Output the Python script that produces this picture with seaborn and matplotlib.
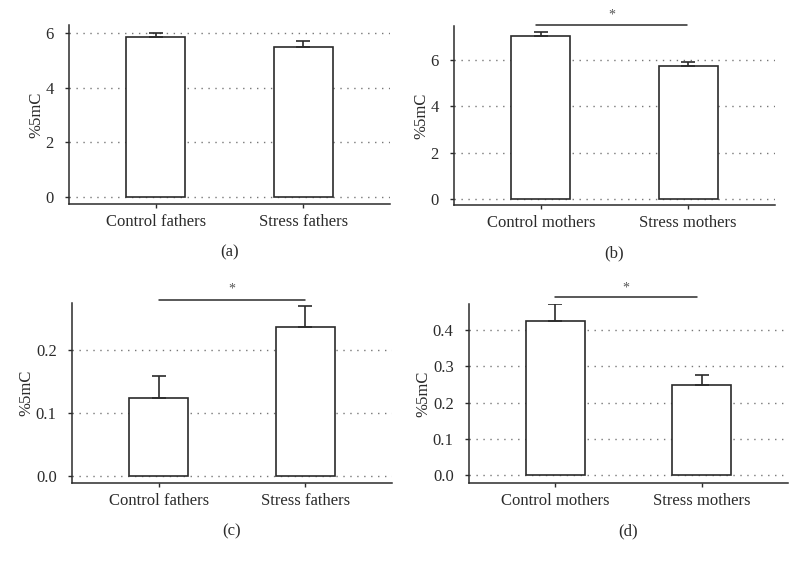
import matplotlib
matplotlib.use('Agg')
import matplotlib.pyplot as plt
import seaborn as sns
import pandas as pd

fathers = ["Control fathers", "Stress fathers"]
mothers = ["Control mothers", "Stress mothers"]

a_mean = [5.85, 5.51]
a_err = [0.15, 0.19]
b_mean = [7.05, 5.73]
b_err = [0.16, 0.20]
c_mean = [0.124, 0.237]
c_err = [0.035, 0.033]
d_mean = [0.424, 0.250]
d_err = [0.048, 0.027]

a_ticks = [0, 2, 4, 6]
b_ticks = [0, 2, 4, 6]
c_ticks = [0.0, 0.1, 0.2]
d_ticks = [0.0, 0.1, 0.2, 0.3, 0.4]

sns.set_style('ticks')
plt.rcParams['font.family'] = ['Liberation Serif', 'DejaVu Serif']

INK = '#2b2b2b'


def panel(fig, rect, cats, means, errs, ticks, ylim, fmt, letter, sig=None):
    ax = fig.add_axes(rect)
    df = pd.DataFrame({'group': cats, 'value': means})
    sns.barplot(data=df, x='group', y='value', ax=ax, color='white',
                edgecolor=INK, linewidth=1.2, width=0.4, errorbar=None)
    ax.errorbar(range(len(cats)), means, yerr=[[0] * len(errs), errs],
                fmt='none', ecolor=INK, elinewidth=1.2, capsize=5, capthick=1.2)
    ax.set_xlim(-0.59, 1.59)
    ax.set_ylim(*ylim)
    ax.set_yticks(ticks)
    ax.set_yticklabels([fmt.format(t) for t in ticks])
    for t in ticks:
        ax.axhline(t, color='#777777', lw=1.0, ls=(0, (1, 4)), zorder=0)
    ax.set_xlabel('')
    ax.set_ylabel('%5mC', fontsize=12, color=INK, labelpad=1)
    ax.tick_params(labelsize=12, colors=INK, length=3, width=1)
    ax.tick_params(axis='y', pad=8)
    ax.tick_params(axis='x', pad=4)
    for s in ['top', 'right']:
        ax.spines[s].set_visible(False)
    for s in ['left', 'bottom']:
        ax.spines[s].set_color(INK)
        ax.spines[s].set_linewidth(1.1)
    if sig is not None:
        x0, x1, y, ys = sig
        ax.plot([x0, x1], [y, y], color=INK, lw=1.1, clip_on=False)
        ax.text((x0 + x1) / 2, ys, '*', ha='center', va='center',
                fontsize=10, color='#555555', clip_on=False)
    ax.text(0.5, -0.27, letter, transform=ax.transAxes, ha='center',
            va='center', fontsize=12, color=INK)
    return ax


fig = plt.figure(figsize=(7.99, 5.67), dpi=100)

panel(fig, [0.0864, 0.6402, 0.4018, 0.3157], fathers, a_mean, a_err,
      a_ticks, (-0.26, 6.3), '{:.0f}', '(a)')
panel(fig, [0.5682, 0.6384, 0.4018, 0.3157], mothers, b_mean, b_err,
      b_ticks, (-0.26, 7.47), '{:.0f}', '(b)', sig=(-0.03, 0.99, 7.52, 7.95))
panel(fig, [0.0901, 0.1481, 0.4005, 0.3175], fathers, c_mean, c_err,
      c_ticks, (-0.0117, 0.2755), '{:.1f}', '(c)', sig=(0.0, 1.0, 0.281, 0.297))
panel(fig, [0.5870, 0.1481, 0.3990, 0.3157], mothers, d_mean, d_err,
      d_ticks, (-0.021, 0.4716), '{:.1f}', '(d)', sig=(0.0, 0.97, 0.49, 0.515))

fig.savefig('out.png', dpi=100)
